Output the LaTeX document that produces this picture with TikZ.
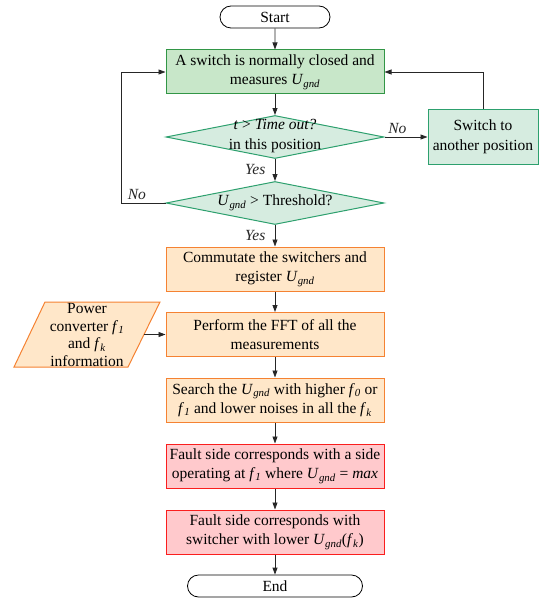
\documentclass[tikz,border=0pt]{standalone}
\usepackage{fontspec}
\setmainfont{Liberation Serif}
\usetikzlibrary{arrows.meta,positioning,shapes.geometric,shapes.misc}
\definecolor{greenfill}{RGB}{200,231,201}
\definecolor{greenline}{RGB}{50,150,70}
\definecolor{mintfill}{RGB}{214,236,224}
\definecolor{mintline}{RGB}{45,160,110}
\definecolor{orangefill}{RGB}{255,231,201}
\definecolor{orangeline}{RGB}{245,130,50}
\definecolor{redfill}{RGB}{255,201,204}
\definecolor{redline}{RGB}{250,30,30}
\tikzset{
    flow/.style={-{Triangle[length=7pt,width=5pt]},line width=0.8pt,black!85},
    terminal/.style={draw,rounded rectangle,line width=0.8pt,minimum height=22,inner sep=0pt},
    box/.style={draw,line width=1pt,minimum width=218,minimum height=44,inner sep=0pt,align=center},
    measurebox/.style={box,fill=greenfill,draw=greenline},
    switchbox/.style={box,fill=mintfill,draw=mintline,minimum width=110,minimum height=55},
    processbox/.style={box,fill=orangefill,draw=orangeline},
    faultbox/.style={box,fill=redfill,draw=redline},
    decision/.style={draw=mintline,fill=mintfill,line width=1pt,diamond,minimum width=218,minimum height=43,inner sep=0pt},
    inputbox/.style={draw=orangeline,fill=orangefill,line width=1pt,line join=miter},
    answer/.style={font=\fontsize{15.5}{18}\selectfont\itshape},
}
\tikzstyle{every node}=[font=\fontsize{15.5}{19.5}\selectfont]
\newcommand{\Ug}{\textit{U}\textsubscript{\textit{gnd}}}
\newcommand{\fsub}[1]{\textit{f}\textsubscript{\textit{#1}}}

\begin{document}
\begin{tikzpicture}[x=1pt,y=-1pt]
    \useasboundingbox (0,0) rectangle (539,599);

    \node[terminal,minimum width=110] (start) at (275,17) {Start};
    \node[measurebox] (measure) at (275,72) {A switch is normally closed and\\measures \Ug};
    \node[decision] (timeout) at (275,137) {};
    \node[align=center] (timeouttext) at (275,136) {\textit{t} > \textit{Time out?}\\in this position};
    \node[switchbox] (switch) at (483,137) {Switch to\\another position};
    \node[decision] (threshold) at (275,203) {};
    \node (thresholdtext) at (threshold) {\Ug{} > Threshold?};
    \node[processbox] (commutate) at (275,269) {Commutate the switchers and\\register \Ug};
    \node[processbox] (fft) at (275,334.5) {Perform the FFT of all the\\measurements};
    % input parallelogram
    \draw[inputbox] (14,367) -- (45,302) -- (160,302) -- (128,367) -- cycle;
    \coordinate (infoedge) at (144,334.5);
    \node[align=center,font=\fontsize{15.5}{17.5}\selectfont] (info) at (87,335) {Power\\converter \fsub{1}\\and \fsub{k}\\information};
    \node[processbox] (search) at (275,400) {Search the \Ug{} with higher \fsub{0} or\\\fsub{1} and lower noises in all the \fsub{k}};
    \node[faultbox] (faultmax) at (275,466) {Fault side corresponds with a side\\operating at \fsub{1} where \Ug{} = \textit{max}};
    \node[faultbox] (faultlow) at (275,532) {Fault side corresponds with\\switcher with lower \Ug(\fsub{k})};
    \node[terminal,minimum width=175] (end) at (275,586) {End};

    % main line
    \draw[flow] (start) -- (measure);
    \draw[flow] (measure) -- (timeout);
    \draw[flow] (timeout) -- node[answer,left,xshift=-6pt] {Yes} (threshold);
    \draw[flow] (threshold) -- node[answer,left,xshift=-6pt] {Yes} (commutate);
    \draw[flow] (commutate) -- (fft);
    \draw[flow] (fft) -- (search);
    \draw[flow] (search) -- (faultmax);
    \draw[flow] (faultmax) -- (faultlow);
    \draw[flow] (faultlow) -- (end);

    % loops
    \draw[flow] (timeout.east) -- node[answer,above,pos=0.3] {No} (switch.west);
    \draw[flow] (switch.north) |- (measure.east);
    \draw[flow] (threshold.west) -- node[answer,above,pos=0.65] {No} ++(-44,0) |- (measure.west);
    \draw[flow] (infoedge) -- (fft.west);
\end{tikzpicture}
\end{document}
